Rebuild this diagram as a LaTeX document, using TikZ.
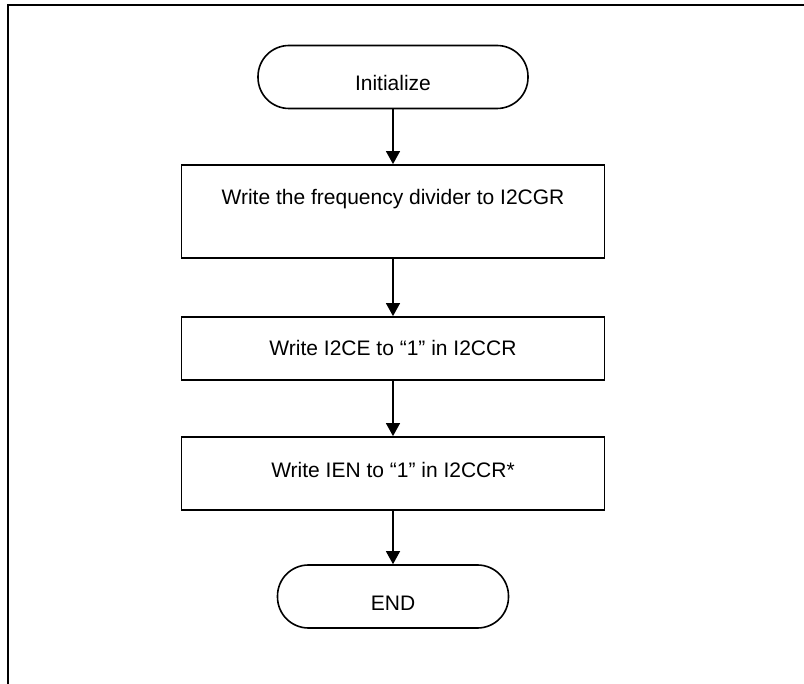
\documentclass[tikz,border=0pt]{standalone}
\usepackage{fontspec}
\setmainfont{Liberation Sans}
\usetikzlibrary{arrows.meta}
\begin{document}
\begin{tikzpicture}[x=1pt,y=-1pt,
  every node/.style={font=\fontsize{21}{25}\selectfont, inner sep=0pt, text height=15pt, text depth=0pt},
  procbox/.style={draw, line width=1.8pt, minimum width=423pt},
  term/.style={draw, line width=1.6pt, rounded corners=31pt, minimum height=63pt, text height=27pt, text depth=0pt},
  flow/.style={line width=1.3pt, -{Triangle[length=13pt,width=14pt]}},
  frame/.style={line width=2pt}]
\useasboundingbox (0,0) rectangle (804,684);
\draw[frame] (8,690) -- (8,5) -- (810,5);
\node[term, minimum width=270pt] (init) at (393,77) {Initialize};
\node[procbox, minimum height=93pt, text depth=29pt] (gr) at (393,211.5) {Write the frequency divider to I2CGR};
\node[procbox, minimum height=63pt] (ce) at (393,348.5) {Write I2CE to “1” in I2CCR};
\node[procbox, minimum height=73pt, text depth=7pt] (ien) at (393,473.5) {Write IEN to “1” in I2CCR*};
\node[term, minimum width=231pt] (end) at (393,596.5) {END};
\draw[flow] (init.south) -- (gr.north);
\draw[flow] (gr.south) -- (ce.north);
\draw[flow] (ce.south) -- (ien.north);
\draw[flow] (ien.south) -- (end.north);
\end{tikzpicture}
\end{document}
